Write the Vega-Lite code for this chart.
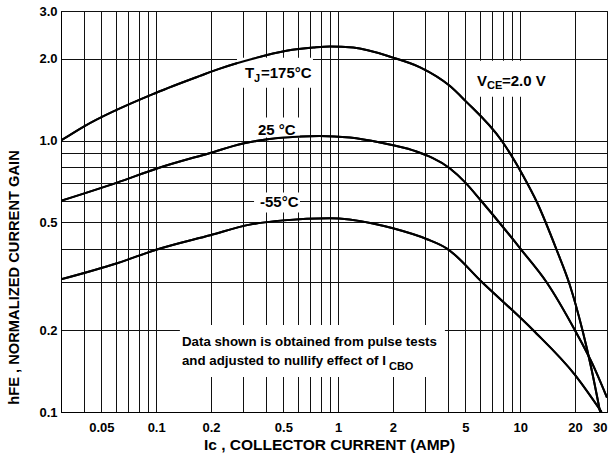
{
  "$schema": "https://vega.github.io/schema/vega-lite/v6.json",
  "width": 546,
  "height": 401,
  "autosize": {"type": "none"},
  "padding": {"left": 61, "top": 11, "right": 5, "bottom": 43},
  "background": "white",
  "config": {
    "view": {"stroke": "black", "strokeWidth": 1},
    "axis": {
      "grid": true,
      "gridColor": "#111",
      "gridOpacity": 1,
      "gridWidth": 1,
      "domainColor": "black",
      "ticks": false,
      "labelColor": "black",
      "labelFont": "'Liberation Sans', sans-serif",
      "labelFontSize": 13,
      "labelFontWeight": "bold",
      "labelOverlap": false,
      "titleColor": "black",
      "titleFont": "'Liberation Sans', sans-serif",
      "titleFontWeight": "bold"
    }
  },
  "datasets": {
    "curves": [
      {"series": "175", "Ic": 0.03, "hFE": 1.0},
      {"series": "175", "Ic": 0.04, "hFE": 1.126},
      {"series": "175", "Ic": 0.1, "hFE": 1.5},
      {"series": "175", "Ic": 0.174, "hFE": 1.73},
      {"series": "175", "Ic": 0.224, "hFE": 1.84},
      {"series": "175", "Ic": 0.34, "hFE": 2.0},
      {"series": "175", "Ic": 0.52, "hFE": 2.14},
      {"series": "175", "Ic": 0.73, "hFE": 2.2},
      {"series": "175", "Ic": 0.9, "hFE": 2.22},
      {"series": "175", "Ic": 1.21, "hFE": 2.2},
      {"series": "175", "Ic": 2.0, "hFE": 2.02},
      {"series": "175", "Ic": 2.82, "hFE": 1.86},
      {"series": "175", "Ic": 4.1, "hFE": 1.59},
      {"series": "175", "Ic": 5.0, "hFE": 1.4},
      {"series": "175", "Ic": 7.9, "hFE": 1.0},
      {"series": "175", "Ic": 10.4, "hFE": 0.74},
      {"series": "175", "Ic": 12.4, "hFE": 0.59},
      {"series": "175", "Ic": 15.9, "hFE": 0.394},
      {"series": "175", "Ic": 18.7, "hFE": 0.295},
      {"series": "175", "Ic": 22, "hFE": 0.2},
      {"series": "175", "Ic": 24.6, "hFE": 0.145},
      {"series": "175", "Ic": 27.5, "hFE": 0.1},
      {"series": "25", "Ic": 0.03, "hFE": 0.6},
      {"series": "25", "Ic": 0.061, "hFE": 0.7},
      {"series": "25", "Ic": 0.101, "hFE": 0.789},
      {"series": "25", "Ic": 0.198, "hFE": 0.9},
      {"series": "25", "Ic": 0.3, "hFE": 0.975},
      {"series": "25", "Ic": 0.5, "hFE": 1.025},
      {"series": "25", "Ic": 0.79, "hFE": 1.04},
      {"series": "25", "Ic": 1.16, "hFE": 1.025},
      {"series": "25", "Ic": 1.7, "hFE": 0.983},
      {"series": "25", "Ic": 2.58, "hFE": 0.92},
      {"series": "25", "Ic": 4.1, "hFE": 0.79},
      {"series": "25", "Ic": 5.0, "hFE": 0.7},
      {"series": "25", "Ic": 6.1, "hFE": 0.6},
      {"series": "25", "Ic": 10.2, "hFE": 0.394},
      {"series": "25", "Ic": 14.0, "hFE": 0.3},
      {"series": "25", "Ic": 20, "hFE": 0.2},
      {"series": "25", "Ic": 25, "hFE": 0.15},
      {"series": "25", "Ic": 30, "hFE": 0.113},
      {"series": "-55", "Ic": 0.03, "hFE": 0.308},
      {"series": "-55", "Ic": 0.061, "hFE": 0.353},
      {"series": "-55", "Ic": 0.101, "hFE": 0.397},
      {"series": "-55", "Ic": 0.198, "hFE": 0.448},
      {"series": "-55", "Ic": 0.327, "hFE": 0.49},
      {"series": "-55", "Ic": 0.5, "hFE": 0.508},
      {"series": "-55", "Ic": 0.9, "hFE": 0.517},
      {"series": "-55", "Ic": 1.55, "hFE": 0.495},
      {"series": "-55", "Ic": 2.0, "hFE": 0.475},
      {"series": "-55", "Ic": 3.08, "hFE": 0.433},
      {"series": "-55", "Ic": 3.96, "hFE": 0.4},
      {"series": "-55", "Ic": 6.2, "hFE": 0.3},
      {"series": "-55", "Ic": 11.8, "hFE": 0.2},
      {"series": "-55", "Ic": 20, "hFE": 0.137},
      {"series": "-55", "Ic": 28, "hFE": 0.1}
    ],
    "boxes": [
      {"x1": 0.135, "x2": 3.86, "y1": 0.1345, "y2": 0.209},
      {"x1": 0.345, "x2": 0.617, "y1": 0.5435, "y2": 0.644},
      {"x1": 0.349, "x2": 0.617, "y1": 1.026, "y2": 1.215},
      {"x1": 0.278, "x2": 0.727, "y1": 1.566, "y2": 2.02},
      {"x1": 5.43, "x2": 14.95, "y1": 1.451, "y2": 1.968}
    ],
    "labels": [
      {"x": 0.308, "y": 1.704, "text": "T"},
      {"x": 0.3766, "y": 1.704, "text": "=175°C"},
      {"x": 0.3625, "y": 1.052, "text": "25 °C"},
      {"x": 0.3718, "y": 0.567, "text": "-55°C"},
      {"x": 5.79, "y": 1.593, "text": "V"},
      {"x": 7.945, "y": 1.593, "text": "=2.0 V"}
    ],
    "subs": [
      {"x": 0.3446, "y": 1.648, "text": "J"},
      {"x": 6.57, "y": 1.553, "text": "CE"},
      {"x": 1.902, "y": 0.1427, "text": "CBO"}
    ],
    "notes": [
      {"x": 0.1386, "y": 0.1748, "text": "Data shown is obtained from pulse tests"},
      {"x": 0.1386, "y": 0.1489, "text": "and adjusted to nullify effect of I"}
    ]
  },
  "layer": [
    {
      "data": {"name": "curves"},
      "mark": {"type": "line", "color": "black", "strokeWidth": 2, "interpolate": "monotone", "clip": true},
      "encoding": {
        "x": {
          "field": "Ic", "type": "quantitative",
          "scale": {"type": "log", "domain": [0.03, 30], "nice": false},
          "axis": {
            "values": [0.03, 0.04, 0.05, 0.06, 0.07, 0.08, 0.09, 0.1, 0.2, 0.3, 0.4, 0.5, 0.6, 0.7, 0.8, 0.9, 1, 2, 3, 4, 5, 6, 7, 8, 9, 10, 20, 30],
            "labelExpr": "indexof([0.05, 0.1, 0.2, 0.5, 1, 2, 5, 10, 20, 30], datum.value) >= 0 ? format(datum.value, '~g') : ''",
            "labelPadding": 9,
            "labelFlush": true,
            "title": "Ic , COLLECTOR CURRENT (AMP)",
            "titleFontSize": 15.5,
            "titleX": 268,
            "titleY": 37,
            "titleBaseline": "alphabetic",
            "titleAnchor": "middle"
          }
        },
        "y": {
          "field": "hFE", "type": "quantitative",
          "scale": {"type": "log", "domain": [0.1, 3], "nice": false},
          "axis": {
            "values": [0.1, 0.2, 0.3, 0.4, 0.5, 0.6, 0.7, 0.8, 0.9, 1, 2, 3],
            "labelExpr": "indexof([0.1, 0.2, 0.5, 1, 2, 3], datum.value) >= 0 ? format(datum.value, '.1f') : ''",
            "labelPadding": 4,
            "labelFlush": false,
            "title": "hFE , NORMALIZED CURRENT GAIN",
            "titleFontSize": 14.7,
            "titleX": -43,
            "titleY": 266,
            "titleAngle": -90,
            "titleBaseline": "alphabetic",
            "titleAlign": "center"
          }
        },
        "detail": {"field": "series", "type": "nominal"}
      }
    },
    {
      "data": {"name": "boxes"},
      "mark": {"type": "rect", "color": "white", "opacity": 1},
      "encoding": {
        "x": {"field": "x1", "type": "quantitative"},
        "x2": {"field": "x2"},
        "y": {"field": "y1", "type": "quantitative"},
        "y2": {"field": "y2"}
      }
    },
    {
      "data": {"name": "curves"},
      "mark": {"type": "line", "color": "black", "strokeWidth": 2, "interpolate": "monotone", "clip": true},
      "encoding": {
        "x": {"field": "Ic", "type": "quantitative"},
        "y": {"field": "hFE", "type": "quantitative"},
        "detail": {"field": "series", "type": "nominal"}
      }
    },
    {
      "data": {"name": "labels"},
      "mark": {"type": "text", "align": "left", "baseline": "alphabetic", "font": "'Liberation Sans', sans-serif", "fontSize": 15, "fontWeight": "bold", "color": "black"},
      "encoding": {
        "x": {"field": "x", "type": "quantitative"},
        "y": {"field": "y", "type": "quantitative"},
        "text": {"field": "text"}
      }
    },
    {
      "data": {"name": "subs"},
      "mark": {"type": "text", "align": "left", "baseline": "alphabetic", "font": "'Liberation Sans', sans-serif", "fontSize": 11, "fontWeight": "bold", "color": "black"},
      "encoding": {
        "x": {"field": "x", "type": "quantitative"},
        "y": {"field": "y", "type": "quantitative"},
        "text": {"field": "text"}
      }
    },
    {
      "data": {"name": "notes"},
      "mark": {"type": "text", "align": "left", "baseline": "alphabetic", "font": "'Liberation Sans', sans-serif", "fontSize": 13.3, "fontWeight": "bold", "color": "black"},
      "encoding": {
        "x": {"field": "x", "type": "quantitative"},
        "y": {"field": "y", "type": "quantitative"},
        "text": {"field": "text"}
      }
    }
  ]
}
